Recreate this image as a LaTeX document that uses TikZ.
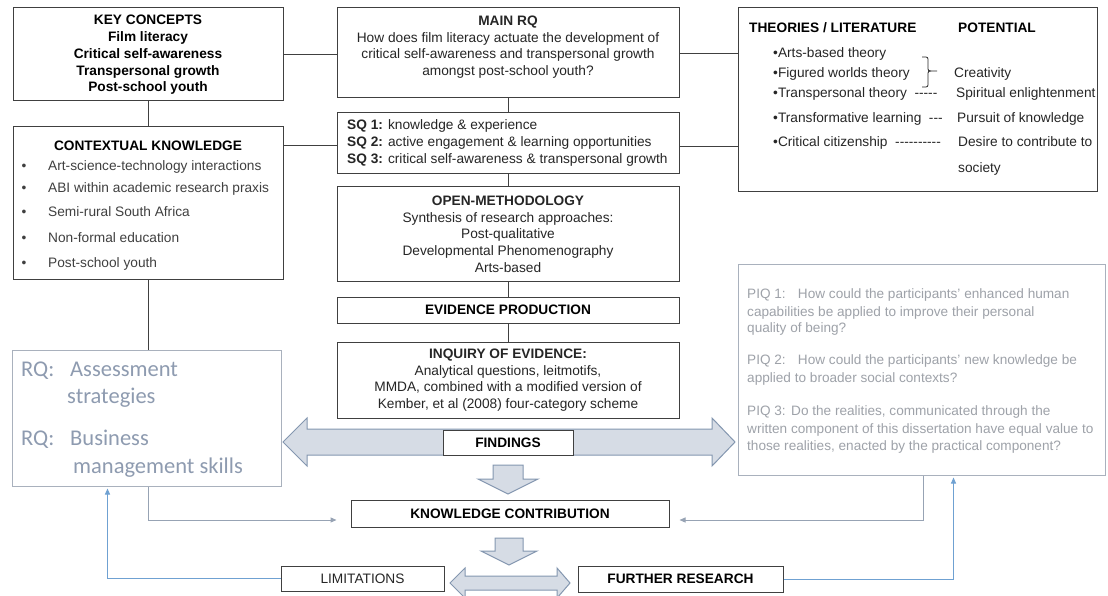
\documentclass[tikz,border=0pt]{standalone}
\usepackage{fontspec}
\setmainfont{Liberation Sans}
\newfontfamily\rqfont{Carlito}
\usetikzlibrary{arrows.meta,calc}
\definecolor{boxline}{HTML}{404040}
\definecolor{arrowfill}{HTML}{D6DCE5}
\definecolor{arrowline}{HTML}{8497B0}
\definecolor{paleline}{HTML}{A9B1BD}
\definecolor{rqtext}{HTML}{8E9BB0}
\definecolor{piqtext}{HTML}{9EA2A9}
\definecolor{linkgray}{HTML}{97A3B4}
\definecolor{linkblue}{HTML}{6FA1D2}
\definecolor{bodytext}{HTML}{262626}
\definecolor{listtext}{HTML}{404040}

\begin{document}
\begin{tikzpicture}[x=1pt,y=-1pt,
  box/.style={draw=boxline,line width=1pt,fill=white,inner sep=0pt},
  palebox/.style={draw=paleline,line width=1pt,fill=white,inner sep=0pt},
  txt/.style={inner sep=0pt,text=bodytext,font=\fontsize{13.7}{16.7}\selectfont,align=center},
  bold/.style={txt,text=black,font=\fontsize{13.7}{16.7}\selectfont\bfseries},
  item/.style={txt,text=listtext,anchor=base west},
  rqline/.style={inner sep=0pt,text=rqtext,font=\rqfont\fontsize{22.5}{27}\selectfont,anchor=base west},
  piqline/.style={inner sep=0pt,text=piqtext,font=\fontsize{13.6}{17}\selectfont,anchor=base west},
  link/.style={draw=boxline,line width=0.9pt},
  grayarrow/.style={draw=linkgray,line width=1pt,-{Triangle[length=6pt,width=5pt]}},
  bluearrow/.style={draw=linkblue,line width=1pt,-{Triangle[length=6pt,width=5pt]}},
  blockarrow/.style={fill=arrowfill,draw=arrowline,line width=1pt,line join=miter}
]
\useasboundingbox (0,0) rectangle (1108,596);
\fill[white] (0,0) rectangle (1108,596);

% ---------- block arrows (drawn first, boxes sit on top) ----------
\filldraw[blockarrow] (283,442) -- (307,418) -- (307,429) -- (712,429) -- (712,418)
  -- (735,442) -- (712,466) -- (712,455) -- (307,455) -- (307,466) -- cycle;
\filldraw[blockarrow] (493,465) -- (523,465) -- (523,479) -- (538,479) -- (508,494)
  -- (478,479) -- (493,479) -- cycle;
\filldraw[blockarrow] (495,538) -- (523,538) -- (523,551) -- (537,551) -- (509,565)
  -- (481,551) -- (495,551) -- cycle;
\filldraw[blockarrow] (450,583) -- (465,568) -- (465,576) -- (557,576) -- (557,568)
  -- (570,583) -- (557,598) -- (557,590) -- (465,590) -- (465,598) -- cycle;

% ---------- boxes ----------
\node[box,minimum width=270,minimum height=93] (kc) at (148,54.5) {};
\node[box,minimum width=270,minimum height=152] (ck) at (148,203) {};
\node[box,minimum width=342,minimum height=90] (mainrq) at (508,53) {};
\node[box,minimum width=342,minimum height=61] (sq) at (508,143.5) {};
\node[box,minimum width=342,minimum height=94] (om) at (508,234) {};
\node[box,minimum width=342,minimum height=26] (ep) at (508,310) {};
\node[box,minimum width=342,minimum height=76] (ie) at (508,380) {};
\node[box,minimum width=130,minimum height=25] (fd) at (508,442.5) {};
\node[box,minimum width=318,minimum height=27] (kcon) at (510,513.5) {};
\node[box,minimum width=163,minimum height=25] (lim) at (362.5,578.5) {};
\node[box,minimum width=205,minimum height=26] (fr) at (680.5,579) {};
\node[box,minimum width=359,minimum height=184] (th) at (917.5,100) {};
\node[palebox,minimum width=367,minimum height=211] (piq) at (921.5,369.5) {};
\node[palebox,minimum width=269,minimum height=136] (rqb) at (146.5,418) {};

% ---------- plain connectors ----------
\draw[link] (kc.east) -- (kc.east -| mainrq.west);
\draw[link] (mainrq.east) -- (mainrq.east -| th.west);
\draw[link] (kc.south) -- (ck.north);
\draw[link] ($(ck.north east)+(0,19)$) coordinate (cklink) -- (cklink -| sq.west);
\draw[link] ($(sq.east)+(0,2.5)$) coordinate (sqlink) -- (sqlink -| th.west);
\draw[link] (mainrq.south) -- (sq.north);
\draw[link] (sq.south) -- (om.north);
\draw[link] (om.south) -- (ep.north);
\draw[link] (ep.south) -- (ie.north);
\draw[link] (ck.south) -- (ck.south |- rqb.north);

% ---------- feedback connectors ----------
\coordinate (kconin) at ($(kcon.west)+(-14,6.5)$);
\coordinate (kconout) at ($(kcon.east)+(10,6.5)$);
\draw[grayarrow] ($(rqb.south)+(1.5,0)$) |- (kconin);
\draw[grayarrow] ($(piq.south)+(1.5,0)$) |- (kconout);
\draw[bluearrow] (lim.west) -| ($(rqb.south west)+(96,2)$);
\draw[bluearrow] (fr.east) -| ($(piq.south west)+(216,2)$);

% ---------- texts ----------
\node[bold] (kctext) at (148,55) {KEY CONCEPTS\\Film literacy\\Critical self-awareness\\Transpersonal growth\\Post-school youth};

\node[bold,anchor=base] (cktitle) at (148,151) {CONTEXTUAL KNOWLEDGE};
\foreach \y/\t [count=\i] in {171/Art-science-technology interactions,
    193/ABI within academic research praxis,
    217/Semi-rural South Africa,
    242/Non-formal education,
    267/Post-school youth} {
  \node[txt,text=listtext,anchor=base] (ckdot\i) at (24,\y) {\textbullet};
  \node[item] (ckitem\i) at (48,\y) {\t};
}

\node[txt] (mainrqtext) at (508,47) {\textbf{MAIN RQ}\\How does film literacy actuate the development of\\critical self-awareness and transpersonal growth\\amongst post-school youth?};

\node[txt,align=left,anchor=west] (sqtext) at (347,143) {\textbf{SQ 1:} knowledge \& experience\\\textbf{SQ 2:} active engagement \& learning opportunities\\\textbf{SQ 3:} critical self-awareness \& transpersonal growth};

\node[txt] (omtext) at (508,234) {\textbf{OPEN-METHODOLOGY}\\Synthesis of research approaches:\\Post-qualitative\\Developmental Phenomenography\\Arts-based};

\node[bold] (eptext) at (ep) {EVIDENCE PRODUCTION};

\node[txt] (ietext) at (508,380) {\textbf{INQUIRY OF EVIDENCE:}\\Analytical questions, leitmotifs,\\MMDA, combined with a modified version of\\Kember, et al (2008) four-category scheme};

\node[bold] (fdtext) at (fd) {FINDINGS};
\node[bold] (kcontext) at (kcon) {KNOWLEDGE CONTRIBUTION};
\node[txt] (limtext) at (lim) {LIMITATIONS};
\node[bold] (frtext) at (fr) {FURTHER RESEARCH};

% theories / literature box
\node[bold,anchor=base west] (thtitle) at (749,33) {THEORIES / LITERATURE};
\node[bold,anchor=base west] (pottitle) at (958,33) {POTENTIAL};
\node[item,text=bodytext] (th1) at (773,58) {\textbullet Arts-based theory};
\node[item,text=bodytext] (th2) at (773,78) {\textbullet Figured worlds theory};
\node[item,text=bodytext] (th3) at (773,98) {\textbullet Transpersonal theory \ -{}-{}-{}-{}-};
\node[item,text=bodytext] (th4) at (773,123) {\textbullet Transformative learning \ -{}-{}-};
\node[item,text=bodytext] (th5) at (773,147) {\textbullet Critical citizenship \ -{}-{}-{}-{}-{}-{}-{}-{}-{}-};
\node[item,text=bodytext] (pot1) at (954,78) {Creativity};
\node[item,text=bodytext] (pot2) at (956,98) {Spiritual enlightenment};
\node[item,text=bodytext] (pot3) at (957,123) {Pursuit of knowledge};
\node[item,text=bodytext] (pot4) at (958,147) {Desire to contribute to};
\node[item,text=bodytext] (pot5) at (958,173) {society};
\draw[draw=bodytext,line width=0.8pt,rounded corners=2pt]
  (922,57) -- (928,57) -- (928,71) -- (937,71);
\draw[draw=bodytext,line width=0.8pt,rounded corners=2pt]
  (931,71) -- (928,71) -- (928,87) -- (922,87);

% research questions box
\node[rqline] (rq1) at (21,376) {RQ:};
\node[rqline] (rq1a) at (70,376) {Assessment};
\node[rqline] (rq1b) at (67,403) {strategies};
\node[rqline] (rq2) at (21,445) {RQ:};
\node[rqline] (rq2a) at (70,445) {Business};
\node[rqline] (rq2b) at (73,473) {management skills};

% practical inquiry questions box
\node[piqline] (piq1a) at (747,298) {PIQ 1:\hspace{0.9em}How could the participants' enhanced human};
\node[piqline] (piq1b) at (747,316) {capabilities be applied to improve their personal};
\node[piqline] (piq1c) at (747,332) {quality of being?};
\node[piqline] (piq2a) at (747,364) {PIQ 2:\hspace{0.9em}How could the participants' new knowledge be};
\node[piqline] (piq2b) at (747,382) {applied to broader social contexts?};
\node[piqline] (piq3a) at (747,415) {PIQ 3:\hspace{0.4em}Do the realities, communicated through the};
\node[piqline] (piq3b) at (747,433) {written component of this dissertation have equal value to};
\node[piqline] (piq3c) at (747,450) {those realities, enacted by the practical component?};
\end{tikzpicture}
\end{document}
